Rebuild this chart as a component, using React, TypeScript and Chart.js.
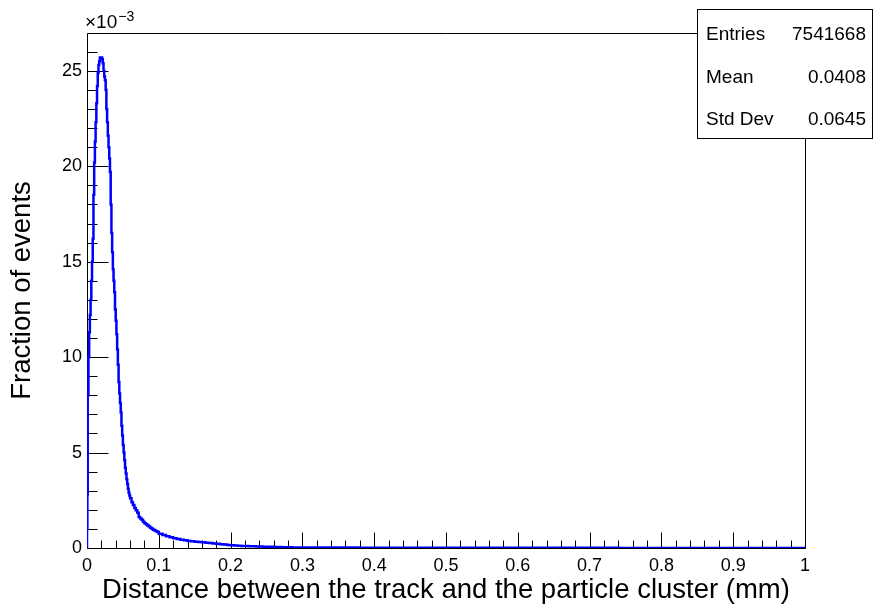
import React, { useEffect, useRef } from 'react';
import { Chart, registerables } from 'chart.js';

Chart.register(...registerables);

const FONT = '"Liberation Sans", Arial, Helvetica, sans-serif';

// Histogram contents in units of 1e-3 (fraction of events)
// first tiny bins at the origin
const firstBinEdges = [0, 0.0005];
const firstBinValues = [1.0, 2.8];
// bins of width 0.001 starting at 0.001
const peakStart = 0.001;
const peakWidth = 0.001;
const peakValues = [
  8.0, 10.0, 11.3, 12.2, 13.0, 14.0, 15.0, 16.2, 18.5, 20.2,
  21.3, 22.3, 23.3, 24.2, 24.9, 25.3, 25.5, 25.7, 25.7, 25.7,
  25.6, 25.4, 25.0, 24.7, 24.5, 24.0, 23.0, 22.3, 21.6, 21.0,
  20.4, 19.7, 18.0, 16.5, 15.5, 14.6, 14.0, 13.4, 12.5, 11.9,
  11.2, 10.4, 9.6, 8.7, 8.1, 7.6, 7.1, 6.4, 5.9, 5.4,
  5.0, 4.6, 4.2, 3.9, 3.6, 3.35, 3.1, 2.9, 2.75,
];
// bins of width 0.002 starting at 0.060
const shoulderStart = 0.06;
const shoulderWidth = 0.002;
const shoulderValues = [
  2.6, 2.4, 2.25, 2.1, 1.98, 1.85, 1.62, 1.55, 1.48, 1.38,
  1.3, 1.24, 1.18, 1.12, 1.06, 1.01, 0.96, 0.92, 0.88, 0.84,
];
// bins of width 0.005 starting at 0.100
const tailStart = 0.1;
const tailWidth = 0.005;
const tailValues = [
  0.74, 0.68, 0.62, 0.56, 0.51, 0.47, 0.43, 0.4, 0.37, 0.35,
  0.33, 0.31, 0.3, 0.28, 0.26, 0.24, 0.22, 0.2, 0.18, 0.16,
  0.14, 0.13, 0.12, 0.11, 0.1, 0.095, 0.09, 0.085, 0.08, 0.07,
  0.065, 0.06, 0.055, 0.05, 0.045, 0.04, 0.035, 0.03, 0.03, 0.028,
];
// bins of width 0.02 starting at 0.300
const farTailStart = 0.3;
const farTailWidth = 0.02;
const farTailValues = [
  0.026, 0.024, 0.022, 0.02, 0.019, 0.018, 0.017, 0.016, 0.015, 0.014,
  0.013, 0.012, 0.012, 0.011, 0.01, 0.01, 0.009, 0.009, 0.008, 0.008,
  0.007, 0.007, 0.006, 0.006, 0.005, 0.005, 0.005, 0.004, 0.004, 0.004,
  0.003, 0.003, 0.003, 0.003, 0.002,
];

const xMin = 0;
const xMax = 1;
const yMin = 0;
const yMax = 26.98;
const xMajorStep = 0.1;
const xMinorPerMajor = 5;
const yMajorStep = 5;
const yMinorPerMajor = 5;

const xTitle = 'Distance between the track and the particle cluster (mm)';
const yTitle = 'Fraction of events';
const exponentBase = '\u00d710';
const exponentPower = '\u22123';

const statLabels = ['Entries', 'Mean', 'Std Dev'];
const statValues = ['7541668', '0.0408', '0.0645'];

function buildPoints() {
  const pts: { x: number; y: number }[] = [{ x: 0, y: 0 }];
  firstBinEdges.forEach((e, i) => pts.push({ x: e, y: firstBinValues[i] }));
  peakValues.forEach((v, i) => pts.push({ x: peakStart + i * peakWidth, y: v }));
  shoulderValues.forEach((v, i) => pts.push({ x: shoulderStart + i * shoulderWidth, y: v }));
  tailValues.forEach((v, i) => pts.push({ x: tailStart + i * tailWidth, y: v }));
  farTailValues.forEach((v, i) => pts.push({ x: farTailStart + i * farTailWidth, y: v }));
  pts.push({ x: xMax, y: farTailValues[farTailValues.length - 1] });
  return pts;
}

const rootAxes = {
  id: 'rootAxes',
  beforeDatasetsDraw(chart: any) {
    const { ctx, chartArea: a, scales } = chart;
    const xs = scales.x;
    const ys = scales.y;
    ctx.save();
    ctx.strokeStyle = '#000';
    ctx.lineWidth = 1;
    const L = Math.round(a.left) + 0.5;
    const T = Math.round(a.top) + 0.5;
    const R = Math.round(a.right) + 0.5;
    const B = Math.round(a.bottom) + 0.5;
    ctx.beginPath();
    ctx.moveTo(L, T);
    ctx.lineTo(R, T);
    ctx.lineTo(R, B);
    ctx.lineTo(L, B);
    ctx.closePath();
    // x ticks (inward)
    const nX = Math.round((xMax - xMin) / xMajorStep) * xMinorPerMajor;
    for (let i = 0; i <= nX; i++) {
      const v = xMin + (i * xMajorStep) / xMinorPerMajor;
      const px = Math.round(xs.getPixelForValue(v)) + 0.5;
      const len = i % xMinorPerMajor === 0 ? 16 : 8;
      ctx.moveTo(px, B);
      ctx.lineTo(px, B - len);
    }
    // y ticks (inward)
    const yMinor = yMajorStep / yMinorPerMajor;
    for (let i = 0; yMin + i * yMinor <= yMax; i++) {
      const v = yMin + i * yMinor;
      const py = Math.round(ys.getPixelForValue(v)) + 0.5;
      const len = i % yMinorPerMajor === 0 ? 21 : 10;
      ctx.moveTo(L, py);
      ctx.lineTo(L + len, py);
    }
    ctx.stroke();

    // exponent label
    ctx.fillStyle = '#000';
    ctx.textAlign = 'left';
    ctx.textBaseline = 'alphabetic';
    ctx.font = `19px ${FONT}`;
    ctx.fillText(exponentBase, Math.round(a.left) - 2, 28);
    const w = ctx.measureText(exponentBase).width;
    ctx.font = `14px ${FONT}`;
    ctx.fillText(exponentPower, Math.round(a.left) - 2 + w + 1, 21);
    ctx.restore();
  },
  afterDraw(chart: any) {
    const { ctx } = chart;
    ctx.save();
    // statistics box
    const bx = 697, by = 9, bw = 176, bh = 129;
    ctx.fillStyle = '#fff';
    ctx.fillRect(bx, by, bw, bh);
    ctx.strokeStyle = '#000';
    ctx.lineWidth = 1;
    ctx.strokeRect(bx + 0.5, by + 0.5, bw - 1, bh);
    ctx.fillStyle = '#000';
    ctx.font = `19px ${FONT}`;
    ctx.textBaseline = 'alphabetic';
    const baselines = [40, 83, 125];
    statLabels.forEach((lab, i) => {
      ctx.textAlign = 'left';
      ctx.fillText(lab, 706, baselines[i]);
      ctx.textAlign = 'right';
      ctx.fillText(statValues[i], 866, baselines[i]);
    });
    ctx.restore();
  },
};

export default function App() {
  const canvasRef = useRef<HTMLCanvasElement | null>(null);

  useEffect(() => {
    document.body.style.margin = '0';
    const canvas = canvasRef.current;
    if (!canvas) return;
    const chart = new Chart(canvas, {
      type: 'line',
      data: {
        datasets: [
          {
            data: buildPoints(),
            borderColor: '#0000ff',
            borderWidth: 2.5,
            pointRadius: 0,
            fill: false,
            stepped: 'before',
            tension: 0,
          },
        ],
      },
      options: {
        animation: false,
        responsive: true,
        maintainAspectRatio: false,
        parsing: false,
        normalized: true,
        layout: { padding: { left: 0, top: 33, right: 69, bottom: 0 } },
        plugins: {
          legend: { display: false },
          tooltip: { enabled: false },
          title: { display: false },
        },
        scales: {
          x: {
            type: 'linear',
            min: xMin,
            max: xMax,
            border: { display: false },
            grid: { display: false, drawTicks: false },
            ticks: {
              stepSize: xMajorStep,
              includeBounds: false,
              autoSkip: false,
              maxRotation: 0,
              color: '#000',
              padding: 7,
              font: { family: FONT, size: 18 },
              callback: (v: any) => String(Number(Number(v).toFixed(1))),
            },
            title: {
              display: true,
              text: xTitle,
              color: '#000',
              font: { family: FONT, size: 27.5 },
              padding: { top: 0, bottom: -2 },
            },
            afterFit: (s: any) => {
              s.height = 57;
            },
          },
          y: {
            type: 'linear',
            min: yMin,
            max: yMax,
            border: { display: false },
            grid: { display: false, drawTicks: false },
            ticks: {
              stepSize: yMajorStep,
              includeBounds: false,
              color: '#000',
              padding: 5,
              font: { family: FONT, size: 18 },
              callback: (v: any) => (Math.abs(v % yMajorStep) < 1e-9 ? String(v) : ''),
            },
            title: {
              display: true,
              text: yTitle,
              color: '#000',
              font: { family: FONT, size: 27.5 },
              padding: { top: 6, bottom: 0 },
            },
            afterFit: (s: any) => {
              s.width = 87;
            },
          },
        },
      },
      plugins: [rootAxes],
    } as any);
    return () => chart.destroy();
  }, []);

  return (
    <div style={{ position: 'absolute', left: 0, top: 0, width: 874, height: 605, background: '#fff' }}>
      <canvas ref={canvasRef} style={{ display: 'block' }} />
    </div>
  );
}
